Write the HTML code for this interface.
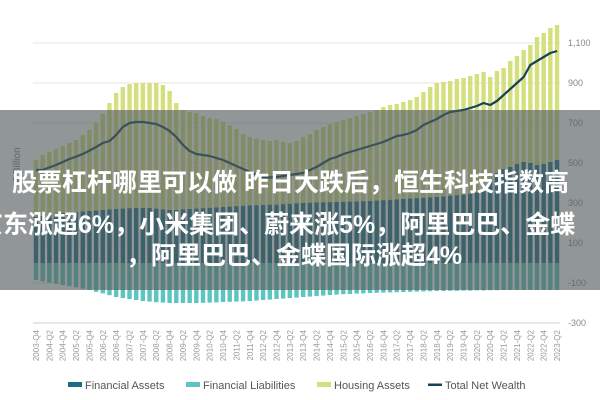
<!DOCTYPE html>
<html><head><meta charset="utf-8">
<style>
body{margin:0;width:600px;height:400px;overflow:hidden;background:#fff;font-family:"Liberation Sans","Noto Sans CJK SC",sans-serif;}
#wrap{position:relative;width:600px;height:400px;}
svg{position:absolute;left:0;top:0;}
.band{position:absolute;left:0;top:110px;width:600px;height:180px;background:rgba(80,90,90,0.63);}
.t{position:absolute;color:#fff;font-weight:bold;font-size:25px;white-space:nowrap;line-height:30px;font-family:"Liberation Sans","Noto Sans CJK SC",sans-serif;}
</style></head><body>
<div id="wrap">
<svg id="chart" width="600" height="400"></svg>
<div class="band"></div>
<div class="t" style="left:12px;top:168px;">股票杠杆哪里可以做 昨日大跌后，恒生科技指数高</div>
<div class="t" style="left:-22px;top:210px;">京东涨超6%，小米集团、蔚来涨5%，阿里巴巴、金蝶</div>
<div class="t" style="left:126px;top:241px;">，阿里巴巴、金蝶国际涨超4%</div>
</div>
<script>
const startYear = 2003, startQ = 4, nBars = 79;
const totalAssets = [515,540,555,570,585,600,615,640,665,700,745,800,850,880,895,900,900,900,900,890,860,800,765,755,750,735,725,720,705,690,670,645,630,620,615,610,615,605,600,610,630,645,665,680,695,705,715,725,735,745,755,765,780,790,795,805,815,830,855,880,900,905,910,920,925,935,945,955,930,960,975,1010,1035,1065,1090,1130,1150,1175,1190];
const financialAssets = [230,235,240,245,250,252,255,258,260,262,265,268,270,272,274,275,275,275,272,268,265,265,268,270,272,274,276,278,280,282,284,286,288,289,290,291,292,294,296,298,300,301,302,303,304,305,306,307,308,309,310,312,314,316,318,320,322,324,326,328,330,333,336,339,342,345,352,360,420,450,470,480,495,505,500,490,495,505,515];
const liabilities = [-85,-92,-98,-104,-110,-116,-122,-128,-135,-144,-152,-161,-170,-175,-180,-185,-190,-193,-196,-198,-200,-200,-200,-200,-200,-199,-198,-197,-195,-194,-193,-192,-190,-188,-185,-183,-180,-178,-175,-173,-170,-168,-165,-163,-160,-158,-156,-155,-153,-152,-150,-149,-148,-147,-146,-145,-144,-143,-142,-141,-140,-140,-139,-139,-138,-138,-137,-137,-136,-136,-135,-135,-135,-135,-135,-135,-135,-135,-135];
const netWealth = [465,465,478,490,505,520,532,545,562,580,600,610,640,680,700,705,705,700,695,680,660,630,590,560,545,540,535,525,515,500,485,470,455,440,430,428,430,435,440,445,450,465,480,500,520,530,545,555,565,575,585,595,605,620,635,640,650,665,690,705,720,740,755,760,765,775,785,800,790,810,840,870,900,930,990,1010,1030,1050,1060];
const yTicks = [1100,900,700,500,300,100,-100,-300];

const svg = document.getElementById('chart');
const NS = 'http://www.w3.org/2000/svg';
const x0 = 36, pitch = 6.68, barW = 4.4;
function xPos(i){ return x0 + pitch*i; }
function yPos(v){ return 263 - v*0.2; }
function mk(tag, attrs){ const e=document.createElementNS(NS,tag); for(const k in attrs) e.setAttribute(k,attrs[k]); svg.appendChild(e); return e; }

// gridlines & y ticks
yTicks.forEach(v=>{
  const g = mk('line',{x1:33,x2:560,y1:yPos(v),y2:yPos(v),stroke:v===-300?'#cfcfcf':'#e6e6e6','stroke-width':1});
  
  
  const t = mk('text',{x:568,y:yPos(v)+3,'font-size':9,fill:'#888','font-family':'Liberation Sans, sans-serif'});
  t.textContent = v.toLocaleString('en-US');
  
  
});
const yt = mk('text',{x:20,y:165,'font-size':10,fill:'#777','font-family':'Liberation Sans, sans-serif','text-anchor':'middle',transform:'rotate(-90 20 165)'});
yt.textContent='€ Billion';



// bars
for(let i=0;i<nBars;i++){
  const x = xPos(i)-barW/2;
  const h = mk('rect',{x:x,y:yPos(totalAssets[i]),width:barW,height:yPos(financialAssets[i])-yPos(totalAssets[i]),fill:'#d4e07e'});
  
  
  const f = mk('rect',{x:x,y:yPos(financialAssets[i]),width:barW,height:yPos(0)-yPos(financialAssets[i]),fill:'#1d6c85'});
  
  
  const l = mk('rect',{x:x,y:yPos(0),width:barW,height:yPos(liabilities[i])-yPos(0),fill:'#5cc5bf'});
  
  
}
// line
const pts = netWealth.map((v,i)=>xPos(i)+','+yPos(v)).join(' ');
const pl = mk('polyline',{points:pts,fill:'none',stroke:'#17425a','stroke-width':2.2,'stroke-linejoin':'round'});



// x labels
for(let i=0;i<nBars;i+=2){
  const totalQ = (startQ-1)+i;
  const yr = startYear + Math.floor(totalQ/4), q = totalQ%4+1;
  const xl = xPos(i)+3;
  const t = mk('text',{x:xl,y:330,'font-size':8,fill:'#999','font-family':'Liberation Sans, sans-serif','text-anchor':'end',transform:'rotate(-90 '+xl+' 330)'});
  t.textContent = yr+'-Q'+q;
  
  
}
// legend
const legend = [['Financial Assets','#1d6c85',68,'rect'],['Financial Liabilities','#5cc5bf',186,'rect'],['Housing Assets','#d4e07e',317,'rect'],['Total Net Wealth','#17425a',428,'line']];
legend.forEach(([name,c,lx,kind])=>{
  let s;
  if(kind==='rect') s = mk('rect',{x:lx,y:382,width:14,height:5,fill:c});
  else s = mk('rect',{x:lx,y:383.5,width:14,height:2.5,fill:c});
  
  
  const t = mk('text',{x:lx+17,y:389,'font-size':11,fill:'#555','font-family':'Liberation Sans, sans-serif'});
  t.textContent = name;
  
  
});
</script>
</body></html>
